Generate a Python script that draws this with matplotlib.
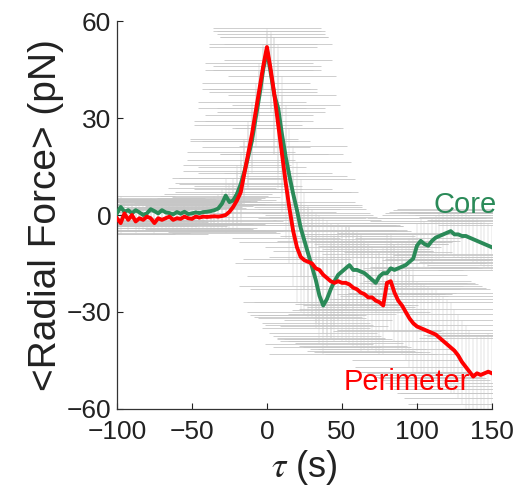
import numpy as np
import matplotlib
matplotlib.use("Agg")
import matplotlib.pyplot as plt

plt.rcParams['font.family'] = ['Liberation Sans', 'DejaVu Sans']
plt.rcParams['mathtext.fontset'] = 'stix'

# time (s), every 2.5 s from -100 to 150
tau = np.arange(-100, 150.01, 2.5)

core = [0.5, 2.5, 1.0, 1.5, 0.5, 1.5, 0.8, 0.0, 0.5, 1.8,
        1.2, 0.5, 1.5, 0.8, 0.6, 0.2, 0.9, 0.4, 1.0, 0.3,
        0.5, 0.8, 0.6, 0.9, 1.0, 1.2, 1.5, 2.0, 3.5, 6.0,
        4.0, 4.5, 6.5, 9.5, 13.5, 18, 23, 30, 37, 45,
        51, 44, 37, 33, 25, 18, 12, 6.5, 1.5, -4,
        -8, -12, -16, -20, -25, -28, -26, -23, -20.5, -18.5,
        -17.5, -16.5, -15.5, -17, -17, -17.5, -18, -19, -20, -21,
        -19, -18, -18, -16.5, -17, -16.5, -16, -15.5, -14.5, -13.5,
        -9.5, -8, -9, -9.5, -8, -7, -6.5, -6, -5.5, -5,
        -6, -6, -6.5, -6.5, -7, -7.5, -8, -8.5, -9, -9.5, -10]

perimeter = [-1, -2.5, 0.5, -1.5, 0, -2, -1, -1.5, -0.5, -1.0,
             -2.5, -1, -1.5, -1, -0.5, -1.5, -1, -1.2, -0.5, -1,
             -1.2, -0.5, -0.8, -0.5, -0.6, -0.5, -0.4, -0.5, -0.3, 0,
             1.0, 2.5, 4.5, 7.0, 13, 19, 25, 32, 39, 46,
             52, 45, 37, 28, 19, 10, 2, -5, -10, -13,
             -14, -14.5, -15, -16.5, -17, -18.5, -19.5, -20.5, -21, -20.5,
             -21, -21, -21.5, -22.5, -23, -24, -24.5, -25.5, -25.5, -26.5,
             -27, -28, -21, -20.5, -24, -26.5, -28, -30, -32, -33.5,
             -34.5, -35, -35.5, -36, -36.5, -37, -38, -39, -40, -41,
             -42, -43.5, -45.5, -47, -48.5, -50, -49, -49.5, -49, -48.5, -49]

core_err = [3.5] * 24 + [4, 4, 4.5, 4.5, 5, 5.5, 6, 7, 9, 10, 10, 10, 10, 9, 8, 7,
            6, 12, 18, 20, 18, 16, 15, 15, 15, 15,
            15, 15, 15, 15, 15, 15, 15, 15, 14, 14,
            13, 13, 12, 12, 11, 11, 10, 10, 9, 9,
            8, 8, 8, 8, 8, 8, 8, 7.5, 7.5, 7.5,
            7, 7, 7, 7, 7, 7, 7, 7, 7, 7,
            7, 7, 7, 7, 7, 7, 7, 7, 7, 7, 7]

perimeter_err = [3.5] * 24 + [4, 4, 4.5, 4.5, 5, 5.5, 6, 7, 9, 10, 10, 10, 10, 9, 8, 7,
                 6, 12, 18, 20, 18, 17, 17, 17, 17, 17,
                 17, 17, 17, 17, 17, 18, 18, 18, 18, 18,
                 18, 18, 18, 18, 18, 18, 17, 17, 16, 16,
                 16, 15, 15, 15, 15, 15, 15, 15, 15, 15,
                 14, 14, 14, 14, 14, 14, 14, 14, 14, 14,
                 13, 13, 13, 13, 13, 12, 12, 12, 12, 12, 12]

fig = plt.figure(figsize=(5.22, 4.92), dpi=100)
ax = fig.add_axes([0.224, 0.169, 0.7185, 0.788])

for vals, errs in [(core, core_err), (perimeter, perimeter_err)]:
    ax.errorbar(tau, vals, yerr=errs, fmt='none', ecolor='#c6c6c6',
                elinewidth=0.35, capsize=39, capthick=0.6, zorder=1)

ax.plot(tau, core, color='#2a8a58', lw=2.8, zorder=3, solid_joinstyle='round')
ax.plot(tau, perimeter, color='#ff0000', lw=2.8, zorder=4, solid_joinstyle='round')

ax.text(132, 3, 'Core', color='#2a8a58', fontsize=21, ha='center', va='center')
ax.text(93, -51.7, 'Perimeter', color='#ff0000', fontsize=21, ha='center', va='center')

ax.set_xlim(-100, 150)
ax.set_ylim(-60, 60)
ax.set_xticks([-100, -50, 0, 50, 100, 150])
ax.set_yticks([-60, -30, 0, 30, 60])
ax.set_xticklabels(['\u2212100', '\u221250', '0', '50', '100', '150'])
ax.set_yticklabels(['\u221260', '\u221230', '0', '30', '60'])
ax.tick_params(direction='in', length=4, width=0.8, labelsize=19, colors='#222222', pad=4)
ax.tick_params(axis='x', pad=8)
for s in ['top', 'right']:
    ax.spines[s].set_visible(False)
for s in ['left', 'bottom']:
    ax.spines[s].set_color('#333333')
    ax.spines[s].set_linewidth(0.9)

ax.set_ylabel('<Radial Force> (pN)', fontsize=28, color='#222222', labelpad=2)
ax.set_xlabel(r'$\tau$ (s)', fontsize=26, color='#222222', labelpad=3)

fig.savefig('out.png', dpi=100)
